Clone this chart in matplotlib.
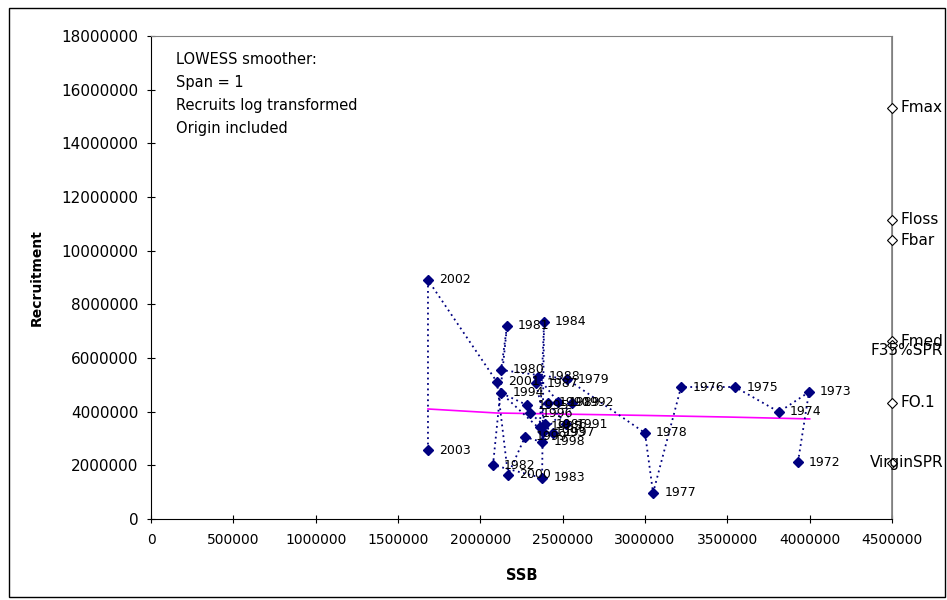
import matplotlib
matplotlib.use("Agg")
import matplotlib.pyplot as plt
from matplotlib.patches import Rectangle

plt.rcParams['font.family'] = ['DejaVu Sans']

# stock-recruit pairs by year
years = [1972, 1973, 1974, 1975, 1976, 1977, 1978, 1979, 1980, 1981,
         1982, 1983, 1984, 1985, 1986, 1987, 1988, 1989, 1990, 1991,
         1992, 1993, 1994, 1995, 1996, 1997, 1998, 1999, 2000, 2001,
         2002, 2003]
ssb = [3929000, 3996000, 3814000, 3547000, 3219000, 3049000, 3000000, 2526000, 2126000, 2162000,
       2077000, 2375000, 2387000, 2362000, 2393000, 2338000, 2350000, 2472000, 2411000, 2520000,
       2557000, 2381000, 2126000, 2283000, 2302000, 2441000, 2375000, 2271000, 2168000, 2101000,
       1682000, 1682000]
recruits = [2124000, 4733000, 3988000, 4919000, 4919000, 969000, 3205000, 5217000, 5553000, 7193000,
            2012000, 1528000, 7342000, 3429000, 3540000, 5068000, 5292000, 4360000, 4323000, 3540000,
            4323000, 3242000, 4696000, 4248000, 3950000, 3205000, 2870000, 3056000, 1640000, 5106000,
            8907000, 2571000]

# LOWESS fit
lowess_x = [1682000, 2100000, 2400000, 3000000, 3500000, 4000000]
lowess_y = [4100000, 3950000, 3920000, 3860000, 3800000, 3730000]

# reference points along the right edge
ref_names = ['Fmax', 'Floss', 'Fbar', 'Fmed', 'F35%SPR', 'FO.1', 'VirginSPR']
ref_recruits = [15317000, 11143000, 10397000, 6633000, 6484000, 4323000, 2087000]
ref_ssb = 4500000
# labels too long to sit right of the marker get pushed back inside the chart
pushed_in = {'F35%SPR': -0.012, 'VirginSPR': 0.0}

fig = plt.figure(figsize=(9.47, 6.0), dpi=100)
ax = fig.add_axes([151 / 947, 81 / 600, 741 / 947, 483 / 600])

navy = '#000080'
ax.plot(ssb, recruits, linestyle=(0, (1, 2)), color=navy, linewidth=1.3,
        marker='D', markersize=5, markerfacecolor=navy, markeredgecolor=navy, zorder=3)
for yr, x, y in zip(years, ssb, recruits):
    ax.annotate(str(yr), (x, y), xytext=(8, 0), textcoords='offset points',
                va='center', ha='left', fontsize=9, color='black', zorder=4)

ax.plot(lowess_x, lowess_y, color='#FF00FF', linewidth=1.2, zorder=2)

ax.axvline(ref_ssb, color='#808080', linewidth=1.2, zorder=1)
ax.plot([ref_ssb] * len(ref_recruits), ref_recruits, linestyle='none', marker='D',
        markersize=5, markerfacecolor='white', markeredgecolor='black',
        markeredgewidth=0.8, zorder=3, clip_on=False)
right_edge = (943 - 151) / 741
for name, y in zip(ref_names, ref_recruits):
    if name in pushed_in:
        ax.text(right_edge, y / 18000000 + pushed_in[name], name, transform=ax.transAxes,
                ha='right', va='center', fontsize=11, clip_on=False)
    else:
        ax.annotate(name, (ref_ssb, y), xytext=(6, 0), textcoords='offset points',
                    va='center', ha='left', fontsize=11, annotation_clip=False)

ax.set_xlim(0, 4500000)
ax.set_ylim(0, 18000000)
ax.set_xticks(range(0, 4500001, 500000))
ax.set_yticks(range(0, 18000001, 2000000))
ax.ticklabel_format(style='plain', useOffset=False)
ax.tick_params(axis='both', direction='inout', length=6, width=0.8)
ax.tick_params(axis='x', pad=7, labelsize=10)
ax.tick_params(axis='y', pad=6, labelsize=11)

for side in ('top', 'right'):
    ax.spines[side].set_color('#808080')
for side in ('left', 'bottom'):
    ax.spines[side].set_color('black')

ax.set_xlabel('SSB', fontsize=10.5, fontweight='bold', labelpad=15)
ax.set_ylabel('Recruitment', fontsize=10, fontweight='bold', labelpad=13)

ax.text(0.034, 0.966, 'LOWESS smoother:\nSpan = 1\nRecruits log transformed\nOrigin included',
        transform=ax.transAxes, ha='left', va='top', fontsize=10.5, linespacing=1.65)

fig.patches.append(Rectangle((9 / 947, 3 / 600), 936 / 947, 589 / 600, transform=fig.transFigure,
                             fill=False, edgecolor='black', linewidth=1.0))

fig.savefig('out.png', dpi=100)
